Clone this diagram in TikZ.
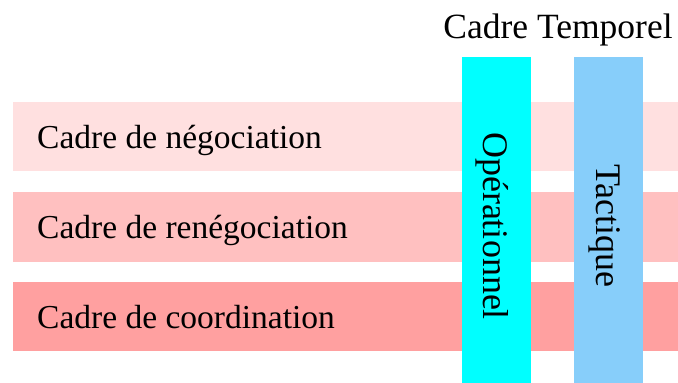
\documentclass[tikz,border=0pt]{standalone}
\usepackage{fontspec}
\setmainfont{Liberation Serif}
\definecolor{bandA}{HTML}{FFE0E0}
\definecolor{bandB}{HTML}{FFC0C0}
\definecolor{bandC}{HTML}{FFA0A0}
\definecolor{barOp}{HTML}{00FFFF}
\definecolor{barTa}{HTML}{87CEFA}
\tikzset{
  band/.style={inner sep=0pt, outer sep=0pt, draw=none},
  bandtext/.style={inner sep=0pt, anchor=base west, font=\fontsize{33.5}{40}\selectfont},
  vtext/.style={inner sep=0pt, anchor=center, rotate=-90, font=\fontsize{36}{42}\selectfont},
  ttext/.style={inner sep=0pt, anchor=base, font=\fontsize{35.5}{42}\selectfont}
}
\begin{document}
\begin{tikzpicture}[x=1pt,y=-1pt]
\useasboundingbox (0,0) rectangle (678,383);
% bands
\fill[bandA] (13,102) rectangle (678,171);
\fill[bandB] (13,192) rectangle (678,262);
\fill[bandC] (13,282) rectangle (678,351);
\node[bandtext] (neg) at (37,148) {Cadre de négociation};
\node[bandtext] (reneg) at (37,238.5) {Cadre de renégociation};
\node[bandtext] (coord) at (37,328) {Cadre de coordination};
% bars
\fill[barOp] (462,57) rectangle (531,383);
\fill[barTa] (574,57) rectangle (643,383);
\node[vtext] (op) at (492,226) {Opérationnel};
\node[vtext] (ta) at (605,226) {Tactique};
% title
\node[ttext] (title) at (558,38) {Cadre Temporel};
\end{tikzpicture}
\end{document}
